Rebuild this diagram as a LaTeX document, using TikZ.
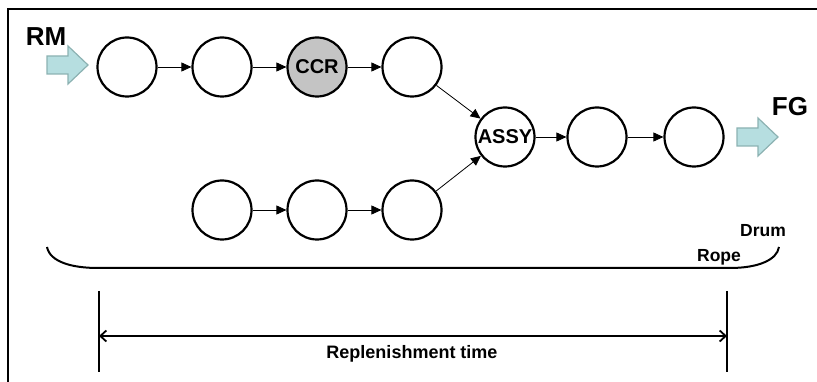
\documentclass[tikz,border=0pt]{standalone}
\usepackage{fontspec}
\setmainfont{Liberation Sans}
\usetikzlibrary{arrows.meta}
\definecolor{flowfill}{HTML}{B6DEE0}
\definecolor{flowedge}{HTML}{8CB2B2}
\definecolor{ccrgray}{HTML}{C4C4C4}
\tikzset{
  station/.style={circle,draw,line width=2.2pt,minimum size=59pt,inner sep=0pt,
    font=\fontsize{20}{20}\selectfont\bfseries},
  link/.style={line width=0.8pt,-{Triangle[length=10pt,width=9pt]}},
  biglabel/.style={font=\fontsize{26}{26}\selectfont\bfseries},
  smalllabel/.style={font=\fontsize{17.5}{17.5}\selectfont\bfseries},
  % block arrow, drawn from the middle of its tail end
  pics/blockarrow/.style={code={
    \draw[draw=flowedge,fill=flowfill,line width=1.2pt,line join=miter]
      (0,-9) -- (21,-9) -- (21,-19) -- (41,0) -- (21,19) -- (21,9) -- (0,9) -- cycle;
  }},
}
\begin{document}
\begin{tikzpicture}[x=1pt,y=-1pt]
\useasboundingbox (0,0) rectangle (817,382);
% open frame
\draw[line width=1.2pt] (817,9) -- (8,9) -- (8,382);

% upper line
\node[station] (u1) at (127,67) {};
\node[station] (u2) at (222,67) {};
\node[station,fill=ccrgray] (ccr) at (317,67) {CCR};
\node[station] (u4) at (412,67) {};
% assembly and finishing
\node[station] (assy) at (505,137) {ASSY};
\node[station] (f1) at (597,137) {};
\node[station] (f2) at (694,137) {};
% lower line
\node[station] (l1) at (222,210) {};
\node[station] (l2) at (317,210) {};
\node[station] (l3) at (412,210) {};

\draw[link] (u1) -- (u2);
\draw[link] (u2) -- (ccr);
\draw[link] (ccr) -- (u4);
\draw[link] (u4) -- (assy);
\draw[link] (l1) -- (l2);
\draw[link] (l2) -- (l3);
\draw[link] (l3) -- (assy);
\draw[link] (assy) -- (f1);
\draw[link] (f1) -- (f2);

% material in / goods out
\pic (rmin) at (47,65) {blockarrow};
\node[biglabel] (rm) at (46,37) {RM};
\pic (fgout) at (737,137) {blockarrow};
\node[biglabel] (fg) at (790,107) {FG};

% rope curve
\draw[line width=2pt] (47,247) .. controls (50,262) and (72,268) .. (98,268)
  -- (730,268) .. controls (758,268) and (777,260) .. (779,247);
\node[smalllabel] (drum) at (763,231) {Drum};
\node[smalllabel] (rope) at (719,257) {Rope};

% replenishment span
\coordinate (sa) at (99,291);
\coordinate (sb) at (99,372);
\coordinate (ea) at (727,291);
\coordinate (eb) at (727,372);
\coordinate (ra) at (99,336);
\coordinate (rb) at (727,336);
\draw[line width=1.8pt] (sa) -- (sb);
\draw[line width=1.8pt] (ea) -- (eb);
\draw[line width=1.8pt,{Straight Barb[length=6pt,width=11pt]}-{Straight Barb[length=6pt,width=11pt]}] (ra) -- (rb);
\node[font=\fontsize{18}{18}\selectfont\bfseries] (rt) at (412,354) {Replenishment time};
\end{tikzpicture}
\end{document}
